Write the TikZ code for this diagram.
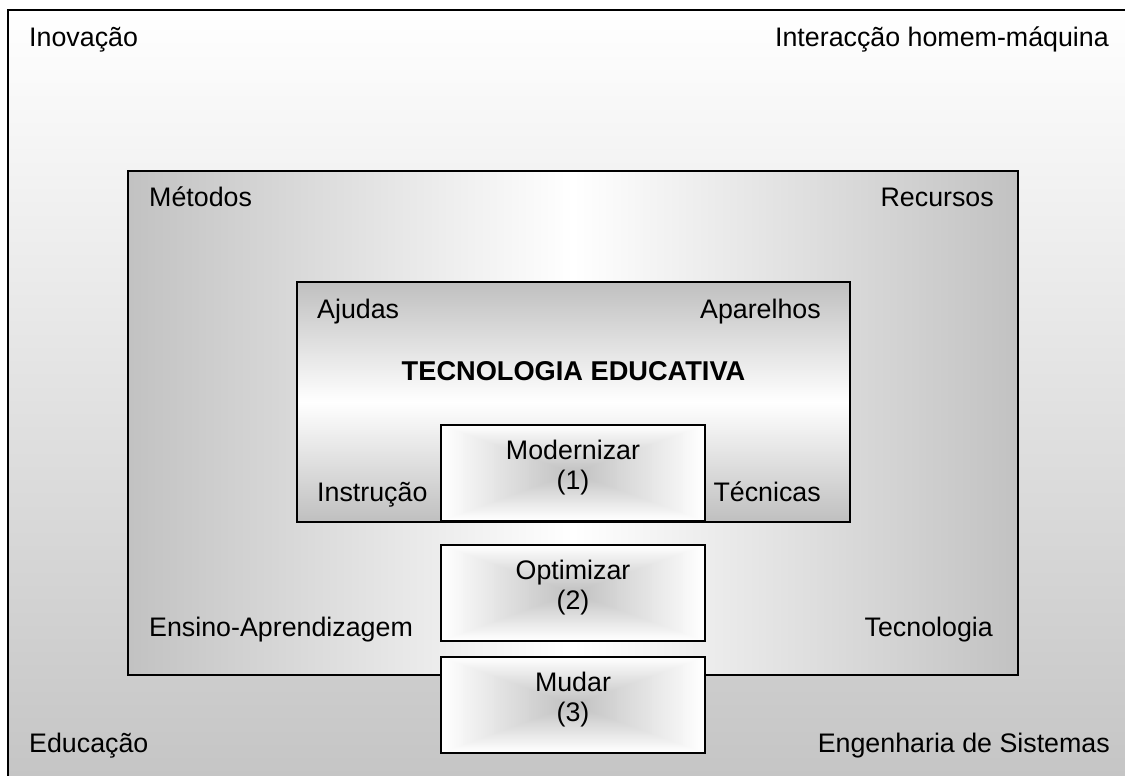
\documentclass[tikz,border=0pt]{standalone}
\usepackage{fontspec}
\setmainfont{Liberation Sans}
\usetikzlibrary{calc}
\tikzset{
  txt/.style={inner sep=0pt, font=\fontsize{26.8}{30}\selectfont},
  frame/.style={draw=black, line width=1.8pt, inner sep=0pt},
  rectshade/.style={path picture={
    \foreach \i in {0,...,60}{
      \pgfmathsetmacro{\f}{1-\i/60}
      \pgfmathsetmacro{\c}{25*\i/60}
      \fill[black!\c] ($(path picture bounding box.center)!\f!(path picture bounding box.north west)$) rectangle ($(path picture bounding box.center)!\f!(path picture bounding box.south east)$);
    }}},
  smallbox/.style={frame, rectshade, minimum width=264pt, minimum height=96pt, align=center, font=\fontsize{26.8}{30}\selectfont},
}
\newcommand{\lowstrut}{\rule[-15.5pt]{0pt}{1pt}}
\begin{document}
\begin{tikzpicture}[x=1pt, y=-1pt]
\useasboundingbox (0,0) rectangle (1125,776);
\fill[white] (0,0) rectangle (1125,776);
\clip (0,0) rectangle (1125,776);
% outer frame
\node (outer) [frame, top color=white, bottom color=black!23, minimum width=1127pt, minimum height=776pt] at (571.5,398) {};
% medium frame
\node (medium) [frame, left color=black!24, right color=black!24, middle color=white, minimum width=890pt, minimum height=504pt] at (573,423) {};
% inner frame
\node (te) [frame, top color=black!25, bottom color=black!25, middle color=white, minimum width=553pt, minimum height=240pt] at (573.5,402) {};
% small boxes
\node (mod) [smallbox] at (573,473) {Modernizar\\(1)\lowstrut};
\node (opt) [smallbox] at (573,593) {Optimizar\\(2)\lowstrut};
\node (mud) [smallbox] at (573,705) {Mudar\\(3)\lowstrut};
% outer labels
\node (inov) [txt, anchor=base west] at (29,47) {Inovação};
\node (inter) [txt, anchor=base east] at (1109,47) {Interacção homem-máquina};
\node (educ) [txt, anchor=base west] at (29,752) {Educação};
\node (eng) [txt, anchor=base east] at (1110,752) {Engenharia de Sistemas};
% medium labels
\node (met) [txt, anchor=base west] at (149,206) {Métodos};
\node (rec) [txt, anchor=base east] at (994,206) {Recursos};
\node (ens) [txt, anchor=base west] at (149,636) {Ensino-Aprendizagem};
\node (tec) [txt, anchor=base east] at (993,636) {Tecnologia};
% inner labels
\node (aju) [txt, anchor=base west] at (317,318) {Ajudas};
\node (apa) [txt, anchor=base east] at (821,318) {Aparelhos};
\node (title) [txt, anchor=base, font=\fontsize{27.2}{30}\selectfont\bfseries] at (573.5,380) {TECNOLOGIA EDUCATIVA};
\node (ins) [txt, anchor=base west] at (317,501) {Instrução};
\node (tecn) [txt, anchor=base east] at (821,501) {Técnicas};
\end{tikzpicture}
\end{document}
